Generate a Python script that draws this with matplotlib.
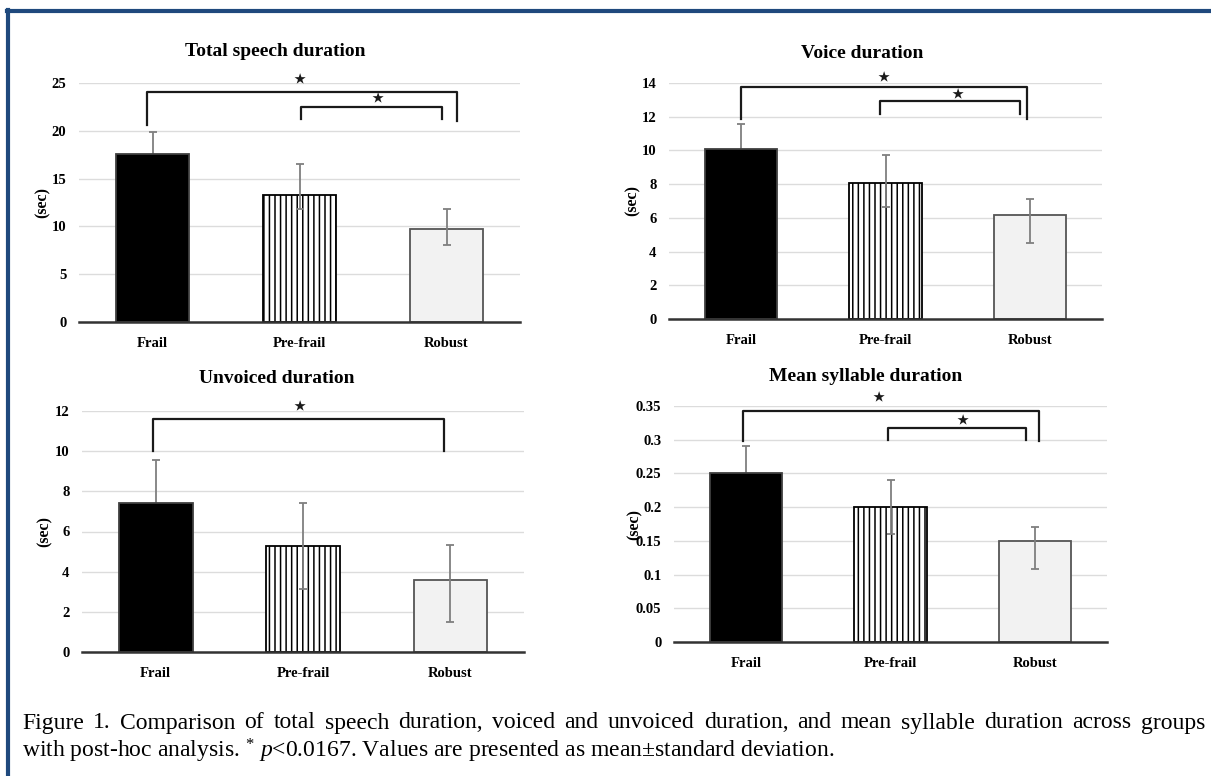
import numpy as np
import matplotlib
matplotlib.use("Agg")
from matplotlib import pyplot as plt
from matplotlib.lines import Line2D

# 数据
groups = ["Frail", "Pre-frail", "Robust"]

titles = ["Total speech duration", "Voice duration", "Unvoiced duration", "Mean syllable duration"]

total_mean = [17.55, 13.32, 9.75]
total_err_hi = [2.28, 3.25, 2.07]
total_err_lo = [2.28, 1.50, 1.71]

voice_mean = [10.07, 8.07, 6.15]
voice_err_hi = [1.48, 1.66, 0.99]
voice_err_lo = [1.48, 1.45, 1.64]

unvoiced_mean = [7.43, 5.29, 3.60]
unvoiced_err_hi = [2.12, 2.12, 1.72]
unvoiced_err_lo = [2.12, 2.16, 2.12]

syllable_mean = [0.250, 0.200, 0.150]
syllable_err_hi = [0.040, 0.040, 0.020]
syllable_err_lo = [0.040, 0.040, 0.041]

y_max = [25, 14, 12, 0.35]
y_step = [5, 2, 2, 0.05]
tick_fmt = ["{:.0f}", "{:.0f}", "{:.0f}", "{:g}"]

# 显著性标记: (左端, 右端, 横线高度, 左腿底, 右腿底, 星号x, 星号y)
sig_total = [(-0.04, 2.07, 24.1, 20.6, 21.0, 1.00, 25.3),
             (1.01, 1.97, 22.5, 21.2, 21.2, 1.53, 23.25)]
sig_voice = [(0.00, 1.98, 13.74, 11.86, 11.86, 0.99, 14.3),
             (0.96, 1.93, 12.91, 12.18, 12.18, 1.50, 13.25)]
sig_unvoiced = [(-0.02, 1.96, 11.6, 10.03, 10.03, 0.98, 12.17)]
sig_syllable = [(-0.02, 2.03, 0.343, 0.298, 0.298, 0.92, 0.361),
                (0.98, 1.94, 0.317, 0.299, 0.299, 1.50, 0.328)]

means = [total_mean, voice_mean, unvoiced_mean, syllable_mean]
errs_hi = [total_err_hi, voice_err_hi, unvoiced_err_hi, syllable_err_hi]
errs_lo = [total_err_lo, voice_err_lo, unvoiced_err_lo, syllable_err_lo]
sigs = [sig_total, sig_voice, sig_unvoiced, sig_syllable]

plt.rcParams['hatch.linewidth'] = 1.1
plt.rcParams['mathtext.fontset'] = 'custom'
plt.rcParams['mathtext.rm'] = 'Liberation Serif'
plt.rcParams['mathtext.it'] = 'Liberation Serif:italic'

W, H = 1211, 776
fig = plt.figure(figsize=(W / 100, H / 100), dpi=100)
fig.patch.set_facecolor("white")

# 像素位置: 左, 右, 上, 下 ; 标题中心x, 标题y, ylabel x
boxes = [(79, 520, 83, 322, 275, 52, 43),
         (669, 1102, 83, 319, 862, 53, 633),
         (82, 524, 411, 652, 277, 378, 45),
         (674, 1107, 406, 642, 866, 376, 635)]

serif = "Liberation Serif"
x = np.arange(len(groups))

for i in range(4):
    l, r, t, b, tx, ty, lx = boxes[i]
    ax = fig.add_axes([l / W, 1 - b / H, (r - l) / W, (b - t) / H])
    ax.set_xlim(-0.5, 2.5)
    ax.set_ylim(0, y_max[i])
    ticks = np.arange(0, y_max[i] + y_step[i] / 2, y_step[i])
    ax.set_yticks(ticks)
    ax.set_yticklabels([tick_fmt[i].format(v) for v in ticks], fontfamily=serif,
                       fontweight="bold", fontsize=10.5)
    ax.set_xticks(x)
    ax.set_xticklabels(groups, fontfamily=serif, fontweight="bold", fontsize=10.5)
    ax.tick_params(length=0, axis="y", pad=9)
    ax.tick_params(length=0, axis="x", pad=11)
    for s in ["left", "right", "top"]:
        ax.spines[s].set_visible(False)
    ax.spines["bottom"].set_linewidth(1.8)
    ax.spines["bottom"].set_color("#333333")
    ax.spines["bottom"].set_zorder(5)
    ax.yaxis.grid(True, color="#dcdcdc", lw=1.0)
    ax.set_axisbelow(True)

    bars = ax.bar(x, means[i], width=0.5,
                  color=["black", "white", "#f2f2f2"],
                  edgecolor=["#404040", "black", "#555555"], linewidth=1.3, zorder=2)
    bars[1].set_hatch("|||")
    bars[0].set_zorder(4)
    ax.errorbar(x, means[i], yerr=[errs_lo[i], errs_hi[i]], fmt="none",
                ecolor="#7f7f7f", elinewidth=1.3, capsize=3, capthick=1.3, zorder=3)

    for (x0, x1, yb, yl0, yl1, sx, sy) in sigs[i]:
        ax.add_line(Line2D([x0, x0, x1, x1], [yl0, yb, yb, yl1], color="#1a1a1a",
                           lw=1.6, clip_on=False, zorder=5))
        ax.text(sx, sy, "⋆", ha="center", va="center", fontsize=21,
                fontfamily="DejaVu Sans", color="#1a1a1a", clip_on=False)

    fig.text(tx / W, 1 - ty / H, titles[i], ha="center", va="center",
             fontfamily=serif, fontweight="bold", fontsize=14)
    fig.text(lx / W, 1 - ((t + b) / 2) / H, "(sec)", ha="center", va="center",
             rotation=90, fontfamily=serif, fontweight="bold", fontsize=11.5)

# 说明文字 (第一行两端对齐)
cap1 = ("Figure 1. Comparison of total speech duration, voiced and unvoiced duration, "
        "and mean syllable duration across groups")
cap2 = r"with post-hoc analysis. $^{*}$ $\it{p}$<0.0167. Values are presented as mean±standard deviation."
cap_size = 17
x_left, x_right = 22, 1205

renderer = fig.canvas.get_renderer()
words = cap1.split(" ")
word_texts = [fig.text(0, 1 - 723 / H, w, ha="left", va="center", fontfamily=serif,
                       fontsize=cap_size) for w in words]
widths = [t.get_window_extent(renderer).width for t in word_texts]
gap = (x_right - x_left - sum(widths)) / (len(words) - 1)
pos = x_left
for t, w in zip(word_texts, widths):
    t.set_x(pos / W)
    pos += w + gap

fig.text(x_left / W, 1 - 751 / H, cap2, ha="left", va="center", fontfamily=serif,
         fontsize=cap_size)

# 蓝色边框 (上、左)
border = "#1f497d"
fig.add_artist(Line2D([7 / W, 1], [1 - 11 / H, 1 - 11 / H], color=border, lw=3,
                      transform=fig.transFigure))
fig.add_artist(Line2D([8 / W, 8 / W], [0, 1 - 10 / H], color=border, lw=3,
                      transform=fig.transFigure))

fig.savefig("out.png", dpi=100)
